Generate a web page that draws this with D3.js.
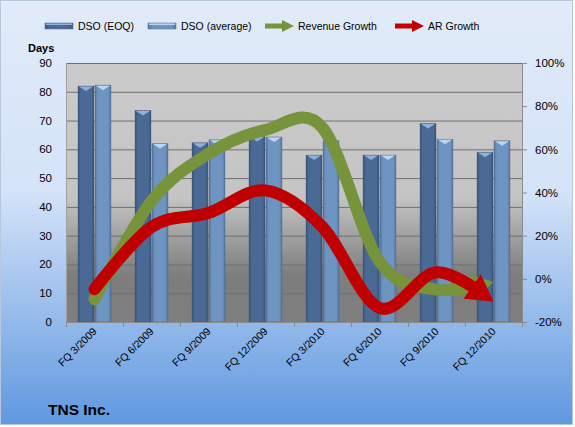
<!DOCTYPE html>
<html lang="en">
<head>
  <meta charset="UTF-8">
  <title>TNS Inc. DSO</title>
  <script src="https://d3js.org/d3.v7.min.js"></script>
  <style>
  body { margin: 0; }
  text { font-family: "Liberation Sans", Arial, sans-serif; fill: #000; }
  </style>
</head>
<body>
<div id="chart"></div>
<script>
  // data
  const quarters = ["FQ 3/2009", "FQ 6/2009", "FQ 9/2009", "FQ 12/2009",
                    "FQ 3/2010", "FQ 6/2010", "FQ 9/2010", "FQ 12/2010"];
  const dsoEOQ = [82, 73.5, 62.3, 64.5, 58, 58, 69, 59];
  const dsoAvg = [82.3, 62, 63.3, 64.3, 63, 58, 63.5, 63];
  const revenueGrowth = [-9.4, 36, 58, 69, 70, 8, -5, -1.5];   // %
  const arGrowth = [-4.8, 24, 30.5, 41, 24, -13.5, 3, -10.5];  // %
  const daysTicks = [0, 10, 20, 30, 40, 50, 60, 70, 80, 90];
  const pctTicks = [-20, 0, 20, 40, 60, 80, 100];

  const W = 575, H = 427;
  const margin = {top: 63, right: 53, bottom: 105, left: 66};
  const gw = W - margin.left - margin.right;
  const gh = H - margin.top - margin.bottom;

  const svg = d3.select("#chart").append("svg")
    .attr("width", W)
    .attr("height", H);

  const defs = svg.append("defs");

  // background gradient
  const bg = defs.append("linearGradient").attr("id", "bg")
    .attr("x1", 0).attr("y1", 0).attr("x2", 0).attr("y2", 1);
  bg.append("stop").attr("offset", "0%").attr("stop-color", "#e1ebf9");
  bg.append("stop").attr("offset", "45%").attr("stop-color", "#d4e3f8");
  bg.append("stop").attr("offset", "100%").attr("stop-color", "#5f98e0");

  // plot area gradient
  const pg = defs.append("linearGradient").attr("id", "plotbg")
    .attr("x1", 0).attr("y1", 0).attr("x2", 0).attr("y2", 1);
  pg.append("stop").attr("offset", "0%").attr("stop-color", "#cbcbcb");
  pg.append("stop").attr("offset", "52%").attr("stop-color", "#c4c4c4");
  pg.append("stop").attr("offset", "82%").attr("stop-color", "#7d7d7d");
  pg.append("stop").attr("offset", "100%").attr("stop-color", "#7f7f7f");

  const barGrad = (id, edge, mid) => {
    const g = defs.append("linearGradient").attr("id", id)
      .attr("x1", 0).attr("y1", 0).attr("x2", 1).attr("y2", 0);
    g.append("stop").attr("offset", "0%").attr("stop-color", edge);
    g.append("stop").attr("offset", "18%").attr("stop-color", mid);
    g.append("stop").attr("offset", "82%").attr("stop-color", mid);
    g.append("stop").attr("offset", "100%").attr("stop-color", edge);
  };
  barGrad("eoq", "#3a5578", "#4a6a95");
  barGrad("avg", "#56789f", "#6e94c2");

  svg.append("rect")
    .attr("x", 0.5).attr("y", 0.5)
    .attr("width", W - 3).attr("height", H - 3)
    .attr("fill", "url(#bg)")
    .attr("stroke", "#b8c8dc");

  const graph = svg.append("g")
    .attr("transform", `translate(${margin.left},${margin.top})`);

  graph.append("rect")
    .attr("width", gw).attr("height", gh)
    .attr("fill", "url(#plotbg)");

  // scales
  const x = d3.scaleBand().domain(quarters).range([0, gw]);
  const y = d3.scaleLinear().domain([0, 90]).range([gh, 0]);
  const yP = d3.scaleLinear().domain([-20, 100]).range([gh, 0]);
  const bw = 16;

  // gridlines
  graph.append("g")
    .selectAll("line").data(daysTicks.filter(d => d > 0)).join("line")
    .attr("x1", 0).attr("x2", gw)
    .attr("y1", d => y(d) + 0.5).attr("y2", d => y(d) + 0.5)
    .attr("stroke", "#6f6f6f");

  // bars
  const drawBars = (vals, fill, cap, dx) => {
    const g = graph.append("g");
    g.selectAll("rect").data(vals).join("rect")
      .attr("x", (d, i) => x(quarters[i]) + x.bandwidth() / 2 + dx)
      .attr("y", d => y(d))
      .attr("width", bw)
      .attr("height", d => gh - y(d))
      .attr("fill", fill)
      .attr("stroke", "rgba(60,80,110,0.5)")
      .attr("stroke-width", 0.6);
    g.selectAll("path").data(vals).join("path")
      .attr("d", (d, i) => {
        const x0 = x(quarters[i]) + x.bandwidth() / 2 + dx, y0 = y(d);
        return `M${x0 + 1},${y0 + 0.5}L${x0 + bw - 1},${y0 + 0.5}L${x0 + bw / 2},${y0 + 5}Z`;
      })
      .attr("fill", cap);
  };
  drawBars(dsoEOQ, "url(#eoq)", "#8fb2dc", -bw - 0.5);
  drawBars(dsoAvg, "url(#avg)", "#b9d6f2", 0.5);

  // axes
  const xAxis = graph.append("g").attr("transform", `translate(0,${gh})`);
  xAxis.append("line").attr("x1", 0).attr("x2", gw).attr("y1", 0.5).attr("y2", 0.5)
    .attr("stroke", "#8a8a8a");
  xAxis.selectAll("line.tick").data(d3.range(quarters.length + 1)).join("line")
    .attr("class", "tick")
    .attr("x1", i => i * x.step() + 0.5).attr("x2", i => i * x.step() + 0.5)
    .attr("y1", 0).attr("y2", 5)
    .attr("stroke", "#8a8a8a");
  xAxis.selectAll("text").data(quarters).join("text")
    .attr("transform", d => `translate(${x(d) + x.bandwidth() / 2 + 3},${10}) rotate(-45)`)
    .attr("text-anchor", "end")
    .attr("font-size", "10.5px")
    .text(d => d);

  const yAxisL = graph.append("g");
  yAxisL.append("line").attr("x1", 0.5).attr("x2", 0.5).attr("y1", 0).attr("y2", gh)
    .attr("stroke", "#a0a0a0");
  yAxisL.selectAll("text").data(daysTicks).join("text")
    .attr("x", -14).attr("y", d => y(d) + 4)
    .attr("text-anchor", "end")
    .attr("font-size", "11.5px")
    .text(d => d);

  const yAxisR = d3.axisRight(yP).tickValues(pctTicks)
    .tickFormat(d => d + "%").tickSize(5).tickPadding(8);
  const gR = graph.append("g").attr("transform", `translate(${gw},0)`).call(yAxisR);
  gR.select(".domain").attr("stroke", "#8a8a8a");
  gR.selectAll(".tick line").attr("stroke", "#8a8a8a");
  gR.selectAll(".tick text").attr("font-size", "11.5px")
    .attr("font-family", "Liberation Sans, Arial, sans-serif").attr("fill", "#000");

  // smoothed growth lines with arrow heads
  const line = d3.line()
    .x((d, i) => x(quarters[i]) + x.bandwidth() / 2)
    .y(d => yP(d))
    .curve(d3.curveCardinal.tension(0));

  const drawArrow = (vals, color, lw, headLen, headW) => {
    const p = graph.append("path")
      .attr("d", line(vals))
      .attr("fill", "none")
      .attr("stroke", color)
      .attr("stroke-width", lw)
      .attr("stroke-linecap", "round");
    const node = p.node();
    const L = node.getTotalLength();
    p.attr("stroke-dasharray", `${L - headLen + 2} ${L}`);
    const tip = node.getPointAtLength(L);
    const base = node.getPointAtLength(L - headLen);
    const dx = tip.x - base.x, dy = tip.y - base.y;
    const len = Math.hypot(dx, dy);
    const nx = -dy / len, ny = dx / len;
    graph.append("path")
      .attr("d", `M${tip.x},${tip.y}L${base.x + nx * headW / 2},${base.y + ny * headW / 2}` +
                 `L${base.x - nx * headW / 2},${base.y - ny * headW / 2}Z`)
      .attr("fill", color);
  };
  drawArrow(revenueGrowth, "#77933c", 12, 22, 26);
  drawArrow(arGrowth, "#c00000", 12, 26, 30);

  // legend
  const legend = svg.append("g").attr("transform", "translate(0,26)");
  const legItems = [
    {label: "DSO (EOQ)", x: 45, type: "bar", fill: "url(#eoq)"},
    {label: "DSO (average)", x: 148, type: "bar", fill: "url(#avg)"},
    {label: "Revenue Growth", x: 265, type: "arrow", fill: "#77933c"},
    {label: "AR Growth", x: 395, type: "arrow", fill: "#c00000"}
  ];
  legItems.forEach(it => {
    const g = legend.append("g").attr("transform", `translate(${it.x},0)`);
    if (it.type === "bar") {
      g.append("rect").attr("x", 0).attr("y", -3).attr("width", 28).attr("height", 6)
        .attr("fill", it.fill).attr("stroke", "#5a7aa5").attr("stroke-width", 0.6);
      g.append("rect").attr("x", 1).attr("y", -2.5).attr("width", 26).attr("height", 1.5)
        .attr("fill", it.label === "DSO (EOQ)" ? "#8fb2dc" : "#b9d6f2");
    } else {
      g.append("line").attr("x1", 0).attr("x2", 19).attr("y1", 0).attr("y2", 0)
        .attr("stroke", it.fill).attr("stroke-width", 5);
      g.append("path").attr("d", "M17,-6L29,0L17,6Z").attr("fill", it.fill);
    }
    g.append("text").attr("x", 33).attr("y", 4)
      .attr("font-size", "10.5px").text(it.label);
  });

  svg.append("text").attr("x", 28).attr("y", 52)
    .attr("font-size", "11px").attr("font-weight", "bold").text("Days");

  svg.append("text").attr("x", 48).attr("y", 415)
    .attr("font-size", "15.5px").attr("font-weight", "bold").text("TNS Inc.");
</script>
</body>
</html>
